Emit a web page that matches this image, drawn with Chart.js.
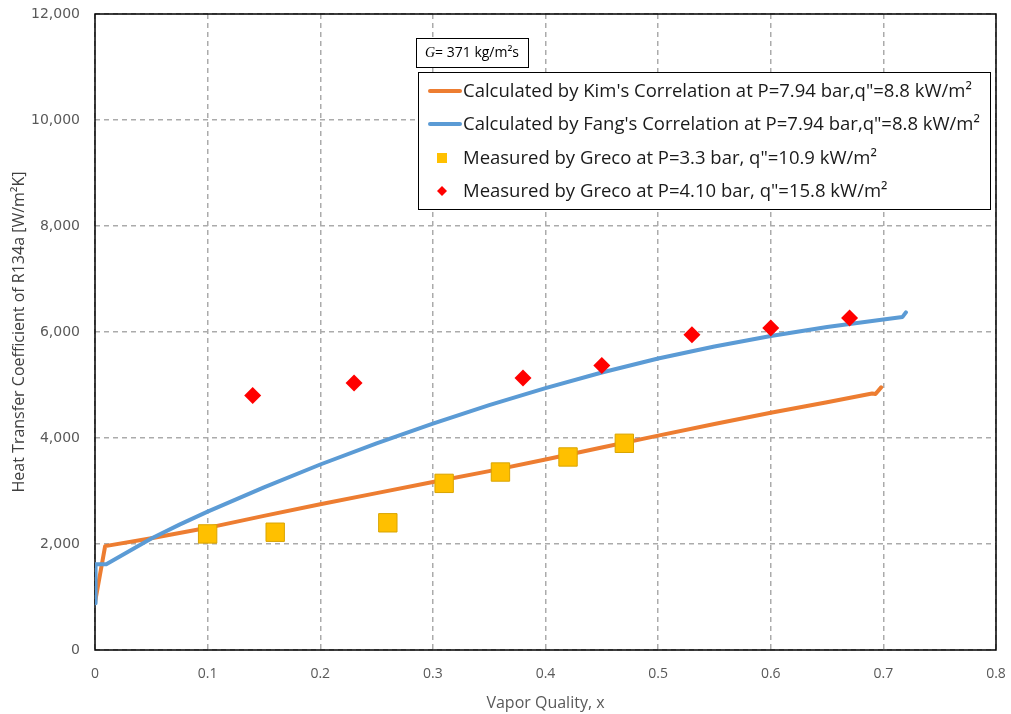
<!DOCTYPE html>
<html><head><meta charset="utf-8">
<script src="https://cdn.jsdelivr.net/npm/chart.js@4.4.0/dist/chart.umd.min.js"></script>
<style>html,body{margin:0;padding:0;background:#fff}#wrap{width:1011px;height:714px}</style>
</head><body><div id="wrap"><canvas id="c" width="1011" height="714"></canvas></div>
<script>
// ---- data ----
const kimX = [0, 0.009, 0.05, 0.1, 0.15, 0.2, 0.25, 0.3, 0.35, 0.4, 0.45, 0.5, 0.55, 0.6, 0.65, 0.69, 0.693, 0.698];
const kimY = [900, 1960, 2110, 2305, 2530, 2750, 2960, 3170, 3375, 3595, 3820, 4045, 4265, 4475, 4675, 4840, 4830, 4955];
const fangX = [0, 0.0005, 0.01, 0.05, 0.075, 0.1, 0.15, 0.2, 0.25, 0.3, 0.35, 0.4, 0.45, 0.5, 0.55, 0.6, 0.65, 0.7, 0.717, 0.72];
const fangY = [880, 1620, 1620, 2105, 2365, 2610, 3070, 3500, 3900, 4270, 4620, 4940, 5235, 5500, 5725, 5925, 6095, 6235, 6285, 6370];
const grecoAX = [0.1, 0.16, 0.26, 0.31, 0.36, 0.42, 0.47];
const grecoAY = [2190, 2222, 2400, 3144, 3358, 3642, 3900];
const grecoBX = [0.14, 0.23, 0.38, 0.45, 0.53, 0.6, 0.67];
const grecoBY = [4800, 5040, 5130, 5370, 5950, 6077, 6266];
const xTicks = [0, 0.1, 0.2, 0.3, 0.4, 0.5, 0.6, 0.7, 0.8];
const yTicks = [0, 2000, 4000, 6000, 8000, 10000, 12000];
const seriesNames = [
  "Calculated by Kim's Correlation at P=7.94 bar,q\"=8.8 kW/m\u00b2",
  "Calculated by Fang's Correlation at P=7.94 bar,q\"=8.8 kW/m\u00b2",
  "Measured by Greco at P=3.3 bar, q\"=10.9 kW/m\u00b2",
  "Measured by Greco at P=4.10 bar, q\"=15.8 kW/m\u00b2"
];
const noteText = "= 371 kg/m\u00b2s";

const pts = (xs, ys) => xs.map((x, i) => ({x: x, y: ys[i]}));

const ORANGE = '#ED7D31', BLUE = '#5B9BD5', GOLD = '#FFC000', RED = '#FF0000';

const frame = {
  id: 'frame',
  beforeDatasetsDraw(chart) {
    const a = chart.chartArea, ctx = chart.ctx;
    ctx.save();
    ctx.strokeStyle = '#000'; ctx.lineWidth = 1.5;
    ctx.strokeRect(a.left, a.top, a.right - a.left, a.bottom - a.top);
    ctx.restore();
  },
  afterDraw(chart) {
    const ctx = chart.ctx;
    ctx.save();
    // note box
    ctx.fillStyle = '#fff'; ctx.fillRect(416.5, 38.5, 112, 29);
    ctx.strokeStyle = '#000'; ctx.lineWidth = 1; ctx.strokeRect(416.5, 38.5, 112, 29);
    ctx.fillStyle = '#000'; ctx.textBaseline = 'middle';
    ctx.font = 'italic 14px "Liberation Serif"';
    ctx.fillText('G', 425, 53);
    const gw = ctx.measureText('G').width;
    ctx.font = '14px "Open Sans"';
    ctx.fillText(noteText, 425 + gw, 53);
    // legend box
    ctx.fillStyle = '#fff'; ctx.fillRect(418.5, 72.5, 572, 137);
    ctx.strokeRect(418.5, 72.5, 572, 137);
    const rows = [91, 124, 158, 191];
    const ds = chart.data.datasets;
    ctx.font = '18.5px "Open Sans"';
    seriesNames.forEach((t, i) => {
      const y = rows[i];
      const d = ds[i];
      if (i < 2) {
        ctx.strokeStyle = d.borderColor; ctx.lineWidth = 4; ctx.lineCap = 'round';
        ctx.beginPath(); ctx.moveTo(430, y); ctx.lineTo(460, y); ctx.stroke();
      } else if (i === 2) {
        ctx.fillStyle = GOLD; ctx.fillRect(437, y - 5, 10, 10);
      } else {
        ctx.fillStyle = RED; ctx.beginPath();
        ctx.moveTo(442, y - 5); ctx.lineTo(447, y); ctx.lineTo(442, y + 5); ctx.lineTo(437, y); ctx.closePath(); ctx.fill();
      }
      ctx.fillStyle = '#1a1a1a';
      ctx.fillText(t, 463, y + 1);
    });
    ctx.restore();
  }
};

new Chart(document.getElementById('c'), {
  type: 'scatter',
  data: {
    datasets: [
      {label: seriesNames[0], data: pts(kimX, kimY), showLine: true, borderColor: ORANGE, backgroundColor: ORANGE,
       borderWidth: 4, pointRadius: 0, tension: 0, order: 3, borderCapStyle: 'round', borderJoinStyle: 'round'},
      {label: seriesNames[1], data: pts(fangX, fangY), showLine: true, borderColor: BLUE, backgroundColor: BLUE,
       borderWidth: 4, pointRadius: 0, tension: 0, order: 2, borderCapStyle: 'round', borderJoinStyle: 'round'},
      {label: seriesNames[2], data: pts(grecoAX, grecoAY), pointStyle: 'rect', pointRadius: 13, pointHoverRadius: 13,
       backgroundColor: GOLD, borderColor: '#D9A400', borderWidth: 1, order: 0},
      {label: seriesNames[3], data: pts(grecoBX, grecoBY), pointStyle: 'rectRot', pointRadius: 8.5, pointHoverRadius: 8.5,
       backgroundColor: RED, borderColor: RED, borderWidth: 0, order: 1}
    ]
  },
  options: {
    responsive: false, animation: false, devicePixelRatio: 1,
    layout: {autoPadding: false, padding: {top: 14, right: 15, left: 0, bottom: 0}},
    plugins: {legend: {display: false}, tooltip: {enabled: false}},
    scales: {
      x: {
        type: 'linear', min: 0, max: 0.8,
        afterFit(s) { s.height = 64; s.paddingLeft = 0; s.paddingRight = 0; },
        afterBuildTicks(s) { s.ticks = xTicks.map(v => ({value: v})); },
        grid: {color: '#ABABAB', lineWidth: 1.5, drawTicks: false},
        border: {display: false, dash: [5, 4]},
        ticks: {padding: 16, color: '#595959', font: {family: 'Open Sans', size: 14},
                callback: v => String(Math.round(v * 10) / 10)},
        title: {display: true, text: 'Vapor Quality, x', color: '#595959',
                font: {family: 'Open Sans', size: 16}, padding: {top: 0, bottom: 1}}
      },
      y: {
        min: 0, max: 12000,
        afterFit(s) { s.width = 95; s.paddingTop = 0; s.paddingBottom = 0; },
        afterBuildTicks(s) { s.ticks = yTicks.map(v => ({value: v})); },
        grid: {color: '#ABABAB', lineWidth: 1.5, drawTicks: false},
        border: {display: false, dash: [5, 4]},
        ticks: {padding: 15, color: '#595959', font: {family: 'DejaVu Sans', size: 14},
                callback: v => v.toLocaleString('en-US')},
        title: {display: true, text: 'Heat Transfer Coefficient of R134a [W/m\u00b2K]', color: '#404040',
                font: {family: 'Open Sans', size: 16}, padding: {top: 10, bottom: 0}}
      }
    }
  },
  plugins: [frame]
});
</script></body></html>
